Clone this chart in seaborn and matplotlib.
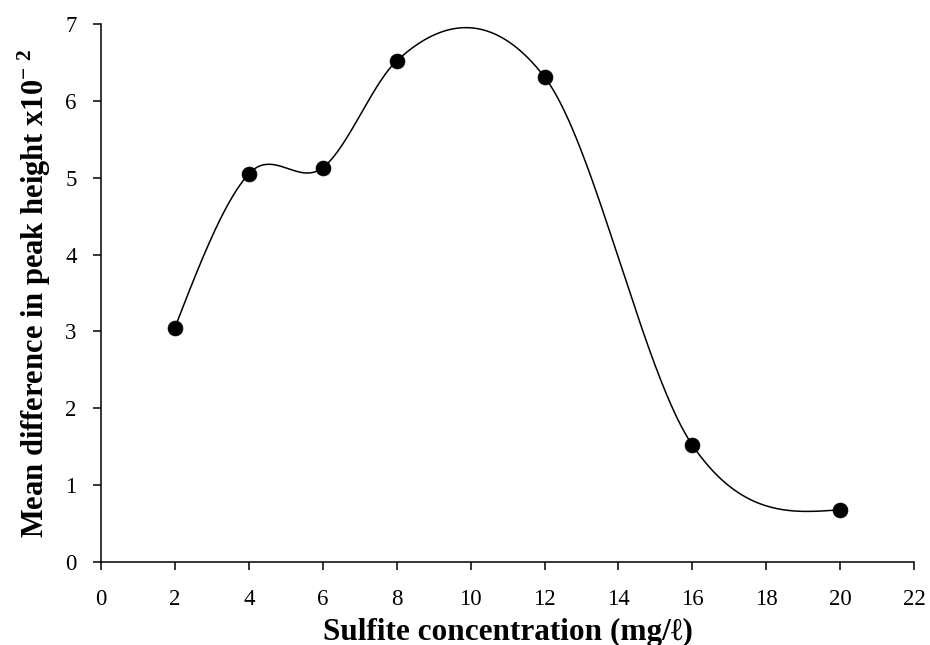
import numpy as np
import pandas as pd
import matplotlib
matplotlib.use("Agg")
import matplotlib.pyplot as plt
import seaborn as sns

conc = [2, 4, 6, 8, 12, 16, 20]
diff = [3.05, 5.05, 5.13, 6.52, 6.31, 1.52, 0.68]
x_ticks = list(range(0, 23, 2))
y_ticks = list(range(0, 8))

sns.set_theme(style="white")
plt.rcParams['font.family'] = ['Liberation Serif', 'DejaVu Serif']
plt.rcParams['mathtext.fontset'] = 'custom'
plt.rcParams['mathtext.rm'] = 'Liberation Serif'
plt.rcParams['mathtext.bf'] = 'Liberation Serif:bold'


def smooth_curve(xs, ys, n=80):
    """Piecewise cubic Hermite through the points (weighted three-point slopes)."""
    xs = np.asarray(xs, float); ys = np.asarray(ys, float)
    h = np.diff(xs); d = np.diff(ys) / h
    m = np.zeros_like(xs)
    for i in range(1, len(xs) - 1):
        m[i] = (h[i - 1] * d[i] + h[i] * d[i - 1]) / (h[i - 1] + h[i])
    m[0] = (3 * d[0] - m[1]) / 2
    m[-1] = (3 * d[-1] - m[-2]) / 2
    px, py = [], []
    for i in range(len(xs) - 1):
        t = np.linspace(0, 1, n)
        if i > 0:
            t = t[1:]
        h00 = 2 * t**3 - 3 * t**2 + 1
        h10 = t**3 - 2 * t**2 + t
        h01 = -2 * t**3 + 3 * t**2
        h11 = t**3 - t**2
        px.append(xs[i] + t * h[i])
        py.append(h00 * ys[i] + h10 * h[i] * m[i] + h01 * ys[i + 1] + h11 * h[i] * m[i + 1])
    return np.concatenate(px), np.concatenate(py)

cx, cy = smooth_curve(conc, diff)
df_curve = pd.DataFrame({"x": cx, "y": cy})
df_pts = pd.DataFrame({"x": conc, "y": diff})

fig, ax = plt.subplots(figsize=(9.3, 6.45), dpi=100)
fig.subplots_adjust(left=0.1086, right=0.983, top=0.9628, bottom=0.1287)

sns.lineplot(data=df_curve, x="x", y="y", sort=False, ax=ax, color="black", linewidth=1.1, estimator=None)
sns.scatterplot(data=df_pts, x="x", y="y", ax=ax, color="black", s=115, edgecolor="black", linewidth=0.5, zorder=3)

ax.set_xlim(0, 22)
ax.set_ylim(0, 7)
ax.set_xticks(x_ticks)
ax.set_yticks(y_ticks)
ax.tick_params(axis="both", which="major", labelsize=16.5, direction="out", length=5.5, width=1.1,
               color="black", labelcolor="black", bottom=True, left=True)
ax.tick_params(axis="x", pad=14)
ax.tick_params(axis="y", pad=12)
for side in ["top", "right"]:
    ax.spines[side].set_visible(False)
for side in ["left", "bottom"]:
    ax.spines[side].set_color("black")
    ax.spines[side].set_linewidth(1.1)

ax.set_xlabel("Sulfite concentration (mg/ℓ)", fontsize=22.5, fontweight="bold", color="black", labelpad=5.5)
ax.set_ylabel(r"Mean difference in peak height x10$^{\mathbf{-\ 2}}$", fontsize=22, fontweight="bold",
              color="black", labelpad=9)
ax.grid(False)

fig.savefig("out.png", dpi=100, facecolor="white")
